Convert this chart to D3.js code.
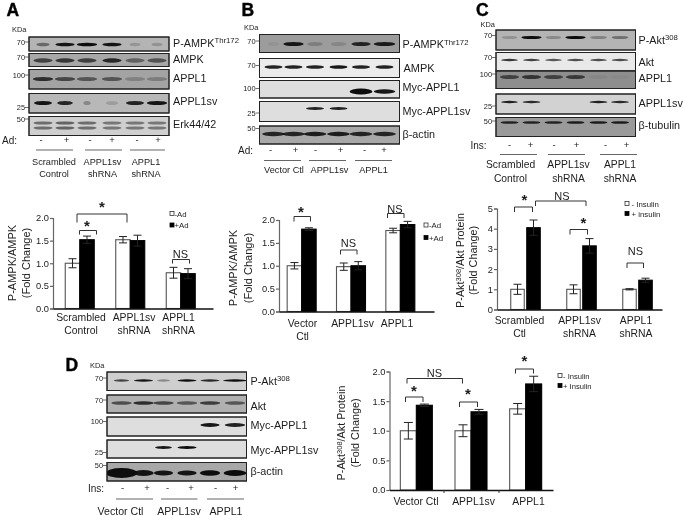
<!DOCTYPE html>
<html><head><meta charset="utf-8">
<script src="https://cdn.jsdelivr.net/npm/d3@7"></script>
<style>
html,body{margin:0;padding:0;background:#fff;overflow:hidden}
svg{display:block;filter:blur(0.4px)}
text{font-family:"Liberation Sans",Arial,sans-serif;fill:#1c1c1c}
</style></head><body>
<svg id="fig" width="683" height="516"></svg>
<script>
// ---------- bar chart data ----------
const catsA = [["Scrambled","Control"],["APPL1sv","shRNA"],["APPL1","shRNA"]];
const catsB = [["Vector","Ctl"],["APPL1sv"],["APPL1"]];
const catsC = [["Scrambled","Ctl"],["APPL1sv","shRNA"],["APPL1","shRNA"]];
const catsD = [["Vector Ctl"],["APPL1sv"],["APPL1"]];

const ctrlA = [1.00,1.52,0.79], ctrlErrA = [0.10,0.07,0.12];
const stimA = [1.52,1.50,0.77], stimErrA = [0.08,0.12,0.11];
const ctrlB = [1.00,0.98,1.77], ctrlErrB = [0.07,0.08,0.05];
const stimB = [1.80,1.00,1.90], stimErrB = [0.03,0.09,0.07];
const ctrlC = [1.00,1.00,1.00], ctrlErrC = [0.25,0.22,0.03];
const stimC = [4.05,3.15,1.45], stimErrC = [0.38,0.36,0.10];
const ctrlD = [1.00,1.00,1.37], ctrlErrD = [0.14,0.10,0.09];
const stimD = [1.43,1.32,1.79], stimErrD = [0.02,0.04,0.13];

const ticks2 = [0,0.5,1,1.5,2];
const ticks5 = [0,1,2,3,4,5];

// ---------- blot band intensities (lane 1..6) ----------
const A_pampk = [.45,.95,1,.95,.18,.2],   A_pampkW = [11,16,17,16,9,9];
const A_ampk  = [.65,.72,.68,.82,.45,.55];
const A_appl1 = [.78,.62,.52,.52,.22,.25];
const A_sv    = [.95,.85,.28,.15,.88,.95], A_svW = [15,13,6,10,15,17];
const A_erk   = [.5,.55,.5,.45,.45,.45];
const B_pampk = [.06,.95,.2,.15,.85,.9],  B_pampkW = [9,17,13,13,16,18];
const B_ampk  = [.9,.9,.9,.95,.9,.9];
const B_myc1  = [0,0,0,0,1,.95],          B_myc1W = [1,1,1,1,19,18];
const B_mycsv = [0,0,.9,.9,0,0],          B_mycsvW = [1,1,15,15,1,1];
const B_actin = [.85,.85,.9,.9,.85,.85];
const C_pakt  = [.2,1,.25,1,.3,.4],       C_paktW = [13,17,13,17,14,14];
const C_akt   = [.8,.75,.65,.7,.7,.7];
const C_appl1 = [.6,.7,.6,.65,.05,.03];
const C_sv    = [.9,.85,0,0,.9,.85],      C_svW = [14,15,1,1,15,15];
const C_tub   = [.85,.85,.85,.9,.9,.9];
const D_pakt  = [.7,.95,.35,1,.85,1],     D_paktW = [13,16,11,16,16,20];
const D_akt   = [.6,.8,.65,.55,.7,.55];
const D_myc1  = [0,0,0,0,.95,.9],         D_myc1W = [1,1,1,1,16,17];
const D_mycsv = [0,0,.95,1,0,0],          D_mycsvW = [1,1,14,16,1,1];
const D_actin = [1,.95,.95,.95,1,1],      D_actinW = [26,17,16,16,17,19];

// ---------- labels ----------
const signs = ["-","+","-","+","-","+"];

// ---------- layout (pixels) ----------
const svg = d3.select("#fig");

function txt(g,s,x,y,size,o={}){
  const t=g.append("text").attr("x",x).attr("y",y).attr("font-size",size)
    .attr("text-anchor",o.anchor||"start");
  if(o.bold)t.attr("font-weight","bold");
  if(o.sup){t.append("tspan").text(s);
    t.append("tspan").text(o.sup).attr("font-size",size*.72).attr("dy",-size*.32);
    if(o.after)t.append("tspan").text(o.after).attr("dy",size*.32);
  } else t.text(s);
  return t;
}

svg.append("defs").selectAll("filter").data([0.5,0.9,1.4]).join("filter")
  .attr("id",d=>"b"+String(d).replace(".","_"))
  .attr("x","-40%").attr("y","-120%").attr("width","180%").attr("height","340%")
  .append("feGaussianBlur").attr("stdDeviation",d=>d);

function blotPanel(cfg){
  const g=svg.append("g");
  txt(g,cfg.letter,cfg.letterX,cfg.letterY,17.5,{bold:true}).style("fill","#000").attr("stroke","#000").attr("stroke-width",.4);
  txt(g,"KDa",cfg.kdaX,cfg.kdaY,7.4);
  const lane=d3.scaleOrdinal(d3.range(6),cfg.lanes);
  cfg.rows.forEach(r=>{
    g.append("rect").attr("x",cfg.x0).attr("y",r.y0).attr("width",cfg.x1-cfg.x0).attr("height",r.y1-r.y0)
      .attr("fill",r.bg).attr("stroke","#222").attr("stroke-width",1);
    const cid="c"+cfg.letter+Math.round(r.y0);
    g.append("clipPath").attr("id",cid).append("rect").attr("x",cfg.x0).attr("y",r.y0).attr("width",cfg.x1-cfg.x0).attr("height",r.y1-r.y0);
    const bg=g.append("g").attr("clip-path",`url(#${cid})`);
    r.ys.forEach(by=>{
      bg.selectAll(null).data(r.vals.map((v,i)=>({v,i}))).join("ellipse")
        .attr("cx",d=>lane(d.i)).attr("cy",by)
        .attr("rx",d=>(r.w?(Array.isArray(r.w)?r.w[d.i]:r.w):15)*0.6)
        .attr("ry",d=>(r.thick&&r.thick[d.i])||r.h||1.7)
        .attr("fill","#0a0a0a").attr("opacity",d=>d.v)
        .attr("filter","url(#b0_5)");
    });
    g.append("rect").attr("x",cfg.x0).attr("y",r.y0).attr("width",cfg.x1-cfg.x0).attr("height",r.y1-r.y0)
      .attr("fill","none").attr("stroke","#222").attr("stroke-width",1);
    txt(g,r.label,cfg.labelX+(r.dx||0),r.by,r.size||10.8,{sup:r.sup});
    if(r.kda){
      txt(g,r.kda,cfg.x0-4,r.ky+2.5,7.4,{anchor:"end"});
      g.append("line").attr("x1",cfg.x0-4).attr("x2",cfg.x0).attr("y1",r.ky).attr("y2",r.ky).attr("stroke","#333").attr("stroke-width",.7);
    }
  });
  txt(g,cfg.stim,cfg.stimX,cfg.stimY,10);
  const sx=d3.scaleOrdinal(d3.range(6),cfg.signX);
  g.selectAll(null).data(signs).join("text").attr("x",(d,i)=>sx(i)).attr("y",cfg.stimY-1)
    .attr("text-anchor","middle").attr("font-size",9.5).text(d=>d);
  cfg.groups.forEach(gr=>{
    g.append("line").attr("x1",gr.x0).attr("x2",gr.x1).attr("y1",cfg.lineY).attr("y2",cfg.lineY)
      .attr("stroke","#666").attr("stroke-width",1.2);
    gr.text.forEach((t,i)=>txt(g,t,gr.c,cfg.catY+i*cfg.catDy,cfg.catSize,{anchor:"middle"}));
  });
}

function barPanel(cfg){
  const g=svg.append("g");
  const y=d3.scaleLinear().domain([0,cfg.max]).range([cfg.y0,cfg.y1]);
  const x=d3.scaleBand().domain(d3.range(cfg.cats.length)).range(cfg.band).paddingInner(0).paddingOuter(0);
  const sub=d3.scaleBand().domain(["c","s"]).range([x.bandwidth()/2-cfg.barW-cfg.gap/2,x.bandwidth()/2+cfg.barW+cfg.gap/2]).paddingInner(cfg.gap/(cfg.barW+cfg.gap));
  const rows=cfg.ctrl.flatMap((v,i)=>[
    {i,k:"c",v,e:cfg.ctrlE[i]},{i,k:"s",v:cfg.stim[i],e:cfg.stimE[i]}]);
  g.selectAll("rect.bar").data(rows).join("rect").attr("class","bar")
    .attr("x",d=>x(d.i)+sub(d.k)).attr("width",sub.bandwidth())
    .attr("y",d=>y(d.v)).attr("height",d=>y(0)-y(d.v))
    .attr("fill",d=>d.k==="c"?"#fff":"#000")
    .attr("stroke",d=>d.k==="c"?"#555":"#000").attr("stroke-width",1.1);
  const eb=g.selectAll("g.err").data(rows).join("g").attr("class","err")
    .attr("stroke","#222").attr("stroke-width",1).attr("fill","none");
  const cx=d=>x(d.i)+sub(d.k)+sub.bandwidth()/2;
  eb.append("path").attr("d",d=>{const a=cx(d),t=y(d.v+d.e),b=y(d.v-d.e),c=cfg.cap;
    return `M${a},${t}V${b}M${a-c},${t}H${a+c}M${a-c},${b}H${a+c}`;});
  const ax=d3.axisLeft(y).tickValues(cfg.ticks).tickSize(3).tickFormat(cfg.fmt);
  const ag=g.append("g").attr("transform",`translate(${cfg.xAxis},0)`).call(ax);
  ag.selectAll("path,line").attr("stroke","#666").attr("stroke-width",1.2);
  ag.selectAll("text").attr("font-size",cfg.tickSize).attr("fill","#1c1c1c").style("font-family",'"Liberation Sans",Arial,sans-serif');
  ag.selectAll(".tick text").attr("x",-4);
  const base=d3.axisBottom(d3.scaleLinear().domain([0,1]).range([cfg.xAxis,cfg.xEnd])).tickValues([]).tickSize(0);
  const bg=g.append("g").attr("transform",`translate(0,${cfg.y0})`).call(base);
  bg.select("path").attr("stroke","#111").attr("stroke-width",1.5);
  if(cfg.sepTicks) cfg.sepTicks.forEach(t=>g.append("line").attr("x1",t).attr("x2",t).attr("y1",cfg.y0).attr("y2",cfg.y0+3).attr("stroke","#333"));
  cfg.cats.forEach((c,i)=>c.forEach((t,j)=>txt(g,t,cfg.catX[i],cfg.catY+j*cfg.catDy,cfg.catSize,{anchor:"middle"})));
  // y title
  const t1=g.append("text").attr("transform",`translate(${cfg.t1x},${cfg.tc}) rotate(-90)`).attr("text-anchor","middle").attr("font-size",cfg.tSize);
  t1.append("tspan").text(cfg.t1[0]);
  if(cfg.t1[1]){
    t1.append("tspan").text(cfg.t1[1]).attr("font-size",cfg.tSize*.7).attr("dy",-cfg.tSize*.32);
    t1.append("tspan").text(cfg.t1[2]).attr("dy",cfg.tSize*.32);
  }
  g.append("text").attr("transform",`translate(${cfg.t2x},${cfg.tc}) rotate(-90)`).attr("text-anchor","middle").attr("font-size",cfg.tSize).text("(Fold Change)");
  // brackets
  cfg.br.forEach(b=>{
    g.append("path").attr("d",`M${b[0]},${b[3]}V${b[2]}H${b[1]}V${b[3]}`).attr("fill","none").attr("stroke","#333").attr("stroke-width",1);
  });
  cfg.stars.forEach(s=>g.append("text").attr("x",s[0]).attr("y",s[1]+6.5).attr("text-anchor","middle").attr("font-size",15).attr("font-weight","bold").text("*"));
  cfg.ns.forEach(s=>txt(g,"NS",s[0],s[1],11,{anchor:"middle"}));
  // legend
  cfg.leg.forEach((l,i)=>{
    g.append("rect").attr("x",cfg.legX).attr("y",l[0]-2).attr("width",4).attr("height",4)
      .attr("fill",i?"#000":"#fff").attr("stroke",i?"#000":"#333").attr("stroke-width",.8);
    txt(g,l[1],cfg.legX+cfg.legDx,l[0]+3,cfg.legSize);
  });
}

// ---------- Panel A ----------
blotPanel({letter:"A",letterX:6.5,letterY:16,kdaX:12,kdaY:31.5,x0:29,x1:169,
 lanes:[43,65,87,112,135,157],labelX:173,
 rows:[
  {label:"P-AMPK",sup:"Thr172",bg:"#b4b4b4",y0:37,y1:51,ys:[44.5],vals:A_pampk,w:A_pampkW,by:46.5,kda:"70",ky:42},
  {label:"AMPK",bg:"#a8a8a8",y0:53.5,y1:66.5,ys:[60.5],vals:A_ampk,w:16,h:2.2,by:63,kda:"70",ky:57},
  {label:"APPL1",bg:"#a3a3a3",y0:69.5,y1:89,ys:[79],vals:A_appl1,w:17,h:2,by:81.5,kda:"100",ky:75},
  {label:"APPL1sv",bg:"#b8b8b8",y0:93.5,y1:113,ys:[103],vals:A_sv,w:A_svW,h:2,by:105,kda:"25",ky:107.5},
  {label:"Erk44/42",bg:"#cfcfcf",y0:116.5,y1:135.5,ys:[123,128],vals:A_erk,w:16,h:1.6,by:128,kda:"50",ky:119}
 ],
 stim:"Ad:",stimX:2,stimY:144,signX:[41,66.5,90,112,137,158],lineY:150,
 groups:[{x0:36,x1:73,c:54,text:["Scrambled","Control"]},{x0:85,x1:122,c:102.5,text:["APPL1sv","shRNA"]},{x0:130,x1:165,c:146,text:["APPL1","shRNA"]}],
 catY:165,catDy:12,catSize:9.2});

barPanel({cats:catsA,ctrl:ctrlA,ctrlE:ctrlErrA,stim:stimA,stimE:stimErrA,max:2,y0:308.5,y1:218,
 band:[54.5,206],barW:14.5,gap:0,cap:4,ticks:ticks2,fmt:d3.format(".1f"),tickSize:9.3,
 xAxis:53,xEnd:213,catX:[81,134,178.5],catY:320.5,catDy:13,catSize:10.4,
 t1x:16,t2x:30,tc:263,tSize:11,t1:["P-AMPK/AMPK"],
 br:[[77,127,214,222.5],[79.5,96.5,230.5,234.5],[172.5,189.5,259.5,263.5]],
 stars:[[102,205],[87,224]],ns:[[180.5,258]],
 legX:170,legDx:4.5,legSize:7.8,leg:[[213.5,"-Ad"],[225,"+Ad"]]});

// ---------- Panel B ----------
blotPanel({letter:"B",letterX:241.5,letterY:16,kdaX:244,kdaY:29.5,x0:259.5,x1:399.5,
 lanes:[273.5,293.5,315,338.5,361,384.5],labelX:402.5,
 rows:[
  {label:"P-AMPK",sup:"Thr172",bg:"#9c9c9c",y0:34.5,y1:52.5,ys:[44],vals:B_pampk,w:B_pampkW,h:2,by:48,kda:"70",ky:41},
  {label:"AMPK",bg:"#ebebeb",y0:58.5,y1:77.5,ys:[67],vals:B_ampk,w:15,h:1.8,by:71.5,dx:1,size:11,kda:"70",ky:65.5},
  {label:"Myc-APPL1",bg:"#dedede",y0:80.5,y1:98,ys:[91.5],vals:B_myc1,w:B_myc1W,thick:[1,1,1,1,3,2.2],by:90.5,kda:"100",ky:88.5},
  {label:"Myc-APPL1sv",bg:"#dedede",y0:101.5,y1:121.5,ys:[108.5],vals:B_mycsv,w:B_mycsvW,h:1.5,by:115,kda:"25",ky:113},
  {label:"β-actin",bg:"#a8a8a8",y0:126,y1:144,ys:[134],vals:B_actin,w:19,h:2.2,by:138,kda:"50",ky:128.5}
 ],
 stim:"Ad:",stimX:238,stimY:154,signX:[270.5,295.5,315.5,340.5,364.5,384],lineY:160.5,
 groups:[{x0:264,x1:301,c:284,text:["Vector Ctl"]},{x0:309,x1:346,c:329.5,text:["APPL1sv"]},{x0:355,x1:392,c:373.5,text:["APPL1"]}],
 catY:172.5,catDy:12,catSize:9.2});

barPanel({cats:catsB,ctrl:ctrlB,ctrlE:ctrlErrB,stim:stimB,stimE:stimErrB,max:2,y0:311.5,y1:220,
 band:[277,425],barW:14.5,gap:0,cap:4,ticks:ticks2,fmt:d3.format(".1f"),tickSize:9.3,
 xAxis:279,xEnd:434,catX:[302.5,352.5,397],catY:326.5,catDy:13.5,catSize:10.4,
 t1x:237,t2x:251.5,tc:268,tSize:11,t1:["P-AMPK/AMPK"],
 br:[[294,310.5,216.5,221.5],[340.5,357,250,254.5],[387.5,404,213.5,218]],
 stars:[[301,210]],ns:[[348.5,247],[395,212.5]],
 legX:424,legDx:5,legSize:7.8,leg:[[225,"-Ad"],[237.5,"+Ad"]]});

// ---------- Panel C ----------
blotPanel({letter:"C",letterX:476,letterY:16,kdaX:480.5,kdaY:26.5,x0:496,x1:635.5,
 lanes:[509.5,531.5,553.5,575.5,598.5,620],labelX:638.5,
 rows:[
  {label:"P-Akt",sup:"308",bg:"#b4b4b4",y0:30,y1:50,ys:[37.5],vals:C_pakt,w:C_paktW,h:1.6,by:43.5,kda:"70",ky:35.5},
  {label:"Akt",bg:"#e9e9e9",y0:52.5,y1:71,ys:[60],vals:C_akt,w:14,h:1.2,by:66,kda:"70",ky:57.5},
  {label:"APPL1",bg:"#8e8e8e",y0:71,y1:88.5,ys:[77],vals:C_appl1,w:16,h:2,by:81.5,kda:"100",ky:74},
  {label:"APPL1sv",bg:"#d2d2d2",y0:94,y1:114,ys:[102],vals:C_sv,w:C_svW,h:1.2,by:106.5,kda:"25",ky:106},
  {label:"β-tubulin",bg:"#9a9a9a",y0:117.5,y1:136.5,ys:[122.5],vals:C_tub,w:15,h:1.3,by:128.5,kda:"50",ky:121}
 ],
 stim:"Ins:",stimX:470.5,stimY:149,signX:[509.5,530.5,554,576.5,605.5,626.5],lineY:154.5,
 groups:[{x0:500,x1:537,c:510.5,text:["Scrambled","Control"]},{x0:548,x1:585,c:568.5,text:["APPL1sv","shRNA"]},{x0:600,x1:637,c:620,text:["APPL1","shRNA"]}],
 catY:168,catDy:13.5,catSize:10.3});

barPanel({cats:catsC,ctrl:ctrlC,ctrlE:ctrlErrC,stim:stimC,stimE:stimErrC,max:5,y0:309.5,y1:208.5,
 band:[497.5,665.5],barW:13.5,gap:2.5,cap:4,ticks:ticks5,fmt:d3.format("d"),tickSize:9.3,
 xAxis:497,xEnd:662,catX:[519.5,579.5,636],catY:323.5,catDy:13,catSize:10.4,
 t1x:464,t2x:477,tc:260.5,tSize:10.8,t1:["P-Akt","308","/Akt Protein"],
 br:[[514.5,532.5,207,212],[535.5,586,201,206],[570,587.5,229.5,234.5],[627,643.5,263,268]],
 stars:[[524.5,198],[583.5,221]],ns:[[562,199.5],[635.5,255]],
 legX:625,legDx:6.5,legSize:7.8,leg:[[203.5,"- Insulin"],[213.5,"+ insulin"]]});

// ---------- Panel D ----------
blotPanel({letter:"D",letterX:65.5,letterY:370.5,kdaX:90,kdaY:368,x0:107,x1:246.5,
 lanes:[121.5,143.5,163.5,187,210,235],labelX:250.5,
 rows:[
  {label:"P-Akt",sup:"308",bg:"#cfcfcf",y0:372,y1:390.5,ys:[380.5],vals:D_pakt,w:D_paktW,h:1.2,by:384.5,kda:"70",ky:378},
  {label:"Akt",bg:"#b0b0b0",y0:395,y1:413,ys:[403],vals:D_akt,w:17,h:1.8,by:409.5,kda:"70",ky:400},
  {label:"Myc-APPL1",bg:"#dedede",y0:417,y1:436,ys:[425],vals:D_myc1,w:D_myc1W,h:1.9,by:428.5,kda:"100",ky:421.5},
  {label:"Myc-APPL1sv",bg:"#dedede",y0:440,y1:458,ys:[447.5],vals:D_mycsv,w:D_mycsvW,h:1.5,by:454,kda:"25",ky:452.5},
  {label:"β-actin",bg:"#a8a8a8",y0:462.5,y1:481,ys:[473],vals:D_actin,w:D_actinW,h:2.6,thick:[5,3,2.6,2.6,2.8,3],by:475,kda:"50",ky:465.5}
 ],
 stim:"Ins:",stimX:88,stimY:492,signX:[122.5,147,167.5,191,215.5,235.5],lineY:499,
 groups:[{x0:116,x1:153,c:120.5,text:["Vector Ctl"]},{x0:161,x1:197.5,c:179,text:["APPL1sv"]},{x0:207,x1:244,c:226,text:["APPL1"]}],
 catY:514.5,catDy:12,catSize:10.6});

barPanel({cats:catsD,ctrl:ctrlD,ctrlE:ctrlErrD,stim:stimD,stimE:stimErrD,max:2,y0:490,y1:371.5,
 band:[389,553],barW:16,gap:0,cap:4.5,ticks:ticks2,fmt:d3.format(".1f"),tickSize:9.3,
 xAxis:389.5,xEnd:553,catX:[416,473.5,528.5],catY:505,catDy:12,catSize:10.4,sepTicks:[444,499],
 t1x:345,t2x:359,tc:433,tSize:10.8,t1:["P-Akt","308","/Akt Protein"],
 br:[[407,462.5,378.5,383.5],[405.5,423,397,402],[459.5,477.5,402,407],[515.5,533.5,369,373.5]],
 stars:[[414,389],[468,392.5],[524.5,359]],ns:[[434.5,376.5]],
 legX:558,legDx:5,legSize:7.6,leg:[[375.5,"- Insulin"],[385.5,"+ Insulin"]]});
</script></body></html>
